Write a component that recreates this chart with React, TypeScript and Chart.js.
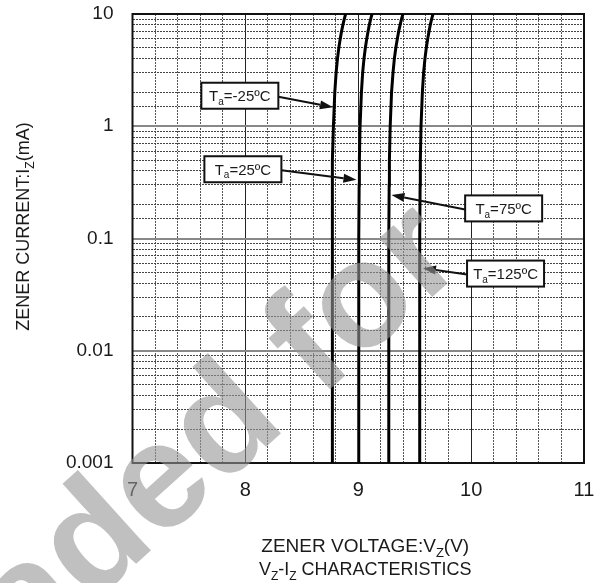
import React, { useEffect, useRef } from 'react';
import { Chart, registerables } from 'chart.js';
Chart.register(...registerables);

// ---- data ----
const currents = [0.001, 0.01, 0.1, 0.3, 0.5, 1, 2, 3, 4, 5, 6, 7, 8, 9, 10];
const vTaM25 = [8.768, 8.768, 8.769, 8.772, 8.774, 8.780, 8.792, 8.804, 8.816, 8.828, 8.840, 8.852, 8.864, 8.876, 8.888];
const vTa25 = [9.004, 9.004, 9.005, 9.008, 9.010, 9.016, 9.028, 9.039, 9.051, 9.063, 9.075, 9.087, 9.098, 9.110, 9.122];
const vTa75 = [9.270, 9.270, 9.271, 9.274, 9.276, 9.283, 9.295, 9.308, 9.320, 9.333, 9.346, 9.358, 9.371, 9.383, 9.396];
const vTa125 = [9.544, 9.544, 9.545, 9.548, 9.550, 9.556, 9.568, 9.579, 9.591, 9.603, 9.615, 9.627, 9.638, 9.650, 9.662];

const xTickValues = [7, 8, 9, 10, 11];
const xTickLabels = ['7', '8', '9', '10', '11'];
const yTickValues = [0.001, 0.01, 0.1, 1, 10];
const yTickLabels = ['0.001', '0.01', '0.1', '1', '10'];

// annotation labels: temperature text, box anchor (V, mA), arrow tip (V, mA)
const annTemps = ['-25', '25', '75', '125'];
const annBoxV = [7.951, 7.978, 10.288, 10.305];
const annBoxI = [1.87, 0.414, 0.1854, 0.0487];
const annTipV = [8.776, 8.984, 9.294, 9.573];
const annTipI = [1.476, 0.333, 0.2445, 0.0544];

const FONT = '"Liberation Sans", Arial, sans-serif';

type Part = { t: string; sub?: boolean };

function drawRich(ctx: CanvasRenderingContext2D, parts: Part[], x: number, y: number, size: number, align: 'left' | 'center') {
  const subSize = Math.round(size * 0.68);
  let total = 0;
  const widths = parts.map((p) => {
    ctx.font = `${p.sub ? subSize : size}px ${FONT}`;
    const w = ctx.measureText(p.t).width;
    total += w;
    return w;
  });
  let cx = align === 'center' ? x - total / 2 : x;
  ctx.textAlign = 'left';
  ctx.textBaseline = 'alphabetic';
  parts.forEach((p, i) => {
    ctx.font = `${p.sub ? subSize : size}px ${FONT}`;
    ctx.fillText(p.t, cx, p.sub ? y + size * 0.25 : y);
    cx += widths[i];
  });
}

const overlay = {
  id: 'overlay',
  beforeDatasetsDraw(chart: any) {
    const { ctx, chartArea: a } = chart;
    ctx.save();
    ctx.strokeStyle = '#111';
    ctx.lineWidth = 2;
    ctx.strokeRect(a.left, a.top, a.right - a.left, a.bottom - a.top);
    ctx.restore();
  },
  afterDraw(chart: any) {
    const { ctx, chartArea: a } = chart;
    const xs = chart.scales.x;
    const ys = chart.scales.y;
    ctx.save();
    ctx.fillStyle = '#1a1a1a';
    // axis titles
    const cx = (a.left + a.right) / 2 + 7;
    drawRich(ctx, [{ t: 'ZENER VOLTAGE:V' }, { t: 'Z', sub: true }, { t: '(V)' }], cx, a.bottom + 89, 19, 'center');
    drawRich(ctx, [{ t: 'V' }, { t: 'Z', sub: true }, { t: '-I' }, { t: 'Z', sub: true }, { t: ' CHARACTERISTICS' }], cx, a.bottom + 112, 18, 'center');
    ctx.save();
    ctx.translate(29, (a.top + a.bottom) / 2 - 12);
    ctx.rotate(-Math.PI / 2);
    drawRich(ctx, [{ t: 'ZENER CURRENT:I' }, { t: 'Z', sub: true }, { t: '(mA)' }], 0, 0, 18, 'center');
    ctx.restore();

    // annotations
    const bw = 77, bh = 26;
    annTemps.forEach((tmp, i) => {
      const bx = xs.getPixelForValue(annBoxV[i]);
      const by = ys.getPixelForValue(annBoxI[i]);
      const tx = xs.getPixelForValue(annTipV[i]);
      const ty = ys.getPixelForValue(annTipI[i]);
      const sx = tx > bx ? bx + bw / 2 : bx - bw / 2;
      const sy = by + 1;
      const ang = Math.atan2(ty - sy, tx - sx);
      const hl = 13, hw = 4.5;
      const ex = tx - Math.cos(ang) * hl;
      const ey = ty - Math.sin(ang) * hl;
      ctx.strokeStyle = '#111';
      ctx.lineWidth = 2;
      ctx.beginPath();
      ctx.moveTo(sx, sy);
      ctx.lineTo(ex, ey);
      ctx.stroke();
      ctx.fillStyle = '#111';
      ctx.beginPath();
      ctx.moveTo(tx, ty);
      ctx.lineTo(ex + Math.sin(ang) * hw, ey - Math.cos(ang) * hw);
      ctx.lineTo(ex - Math.sin(ang) * hw, ey + Math.cos(ang) * hw);
      ctx.closePath();
      ctx.fill();
      ctx.fillStyle = '#fff';
      ctx.fillRect(bx - bw / 2, by - bh / 2, bw, bh);
      ctx.strokeStyle = '#111';
      ctx.lineWidth = 2;
      ctx.strokeRect(bx - bw / 2, by - bh / 2, bw, bh);
      ctx.fillStyle = '#1a1a1a';
      drawRich(ctx, [{ t: 'T' }, { t: 'a', sub: true }, { t: `=${tmp}ºC` }], bx, by + 5.5, 15, 'center');
    });

    // watermark
    ctx.save();
    ctx.translate(468, 265);
    ctx.rotate((-42 * Math.PI) / 180);
    ctx.font = `bold 150px ${FONT}`;
    ctx.fillStyle = 'rgba(150,150,150,0.6)';
    ctx.textAlign = 'right';
    ctx.textBaseline = 'alphabetic';
    ctx.fillText('Downloaded for', 0, 0);
    ctx.restore();
    ctx.restore();
  },
};

const isInt = (v: number) => Math.abs(v - Math.round(v)) < 1e-6;
const isDecade = (v: number) => {
  const l = Math.log10(v);
  return Math.abs(l - Math.round(l)) < 1e-6;
};

export default function App() {
  const ref = useRef<HTMLCanvasElement | null>(null);
  useEffect(() => {
    if (!ref.current) return;
    const mk = (label: string, vs: number[]) => ({
      label,
      data: currents.map((c, i) => ({ x: vs[i], y: c })),
      borderColor: '#000',
      borderWidth: 3,
      pointRadius: 0,
      tension: 0,
      fill: false,
    });
    const noPad = (s: any) => {
      s.paddingTop = 0;
      s.paddingBottom = 0;
      s.paddingLeft = 0;
      s.paddingRight = 0;
    };
    const chart = new Chart(ref.current, {
      type: 'line',
      data: {
        datasets: [mk('Ta=-25ºC', vTaM25), mk('Ta=25ºC', vTa25), mk('Ta=75ºC', vTa75), mk('Ta=125ºC', vTa125)],
      },
      options: {
        animation: false,
        responsive: false,
        events: [],
        layout: { padding: { top: 14, right: 26, left: 0, bottom: 0 } },
        plugins: { legend: { display: false }, tooltip: { enabled: false } },
        scales: {
          xMinor: {
            type: 'linear',
            position: 'bottom',
            min: 7,
            max: 11,
            ticks: { display: false, stepSize: 0.2 },
            grid: {
              drawTicks: false,
              color: (c: any) => (isInt(c.tick.value) ? 'rgba(0,0,0,0)' : '#555'),
              lineWidth: 1,
            },
            border: { display: false, dash: [2, 1] },
            afterFit: (s: any) => { s.height = 0; noPad(s); },
          },
          x: {
            type: 'linear',
            position: 'bottom',
            min: 7,
            max: 11,
            ticks: {
              stepSize: 1,
              padding: 15,
              color: '#1a1a1a',
              font: { family: FONT, size: 20 },
              callback: (v: any) => {
                const i = xTickValues.findIndex((t) => Math.abs(t - v) < 1e-6);
                return i >= 0 ? xTickLabels[i] : '';
              },
            },
            grid: { drawTicks: false, color: '#222', lineWidth: 1 },
            border: { display: false },
            afterFit: (s: any) => { s.height = 120; noPad(s); },
          },
          yMinor: {
            type: 'logarithmic',
            position: 'left',
            min: 0.001,
            max: 10,
            ticks: { display: false, autoSkip: false },
            grid: {
              drawTicks: false,
              color: (c: any) => (isDecade(c.tick.value) ? 'rgba(0,0,0,0)' : '#444'),
              lineWidth: 1,
            },
            border: { display: false, dash: [2, 1] },
            afterFit: (s: any) => { s.width = 0; noPad(s); },
          },
          y: {
            type: 'logarithmic',
            position: 'left',
            min: 0.001,
            max: 10,
            ticks: {
              autoSkip: false,
              padding: 19,
              color: '#1a1a1a',
              font: { family: FONT, size: 19 },
              callback: (v: any) => {
                const i = yTickValues.findIndex((t) => Math.abs(Math.log10(t) - Math.log10(v)) < 1e-6);
                return i >= 0 ? yTickLabels[i] : '';
              },
            },
            grid: {
              drawTicks: false,
              color: (c: any) => (isDecade(c.tick.value) ? '#888' : 'rgba(0,0,0,0)'),
              lineWidth: 2,
            },
            border: { display: false },
            afterFit: (s: any) => { s.width = 132.5; noPad(s); },
          },
        },
      },
      plugins: [overlay],
    } as any);
    return () => chart.destroy();
  }, []);
  return (
    <div style={{ position: 'fixed', left: 0, top: 0, width: 610, height: 583, background: '#fff' }}>
      <canvas ref={ref} width={610} height={583} style={{ width: 610, height: 583, display: 'block' }} />
    </div>
  );
}
